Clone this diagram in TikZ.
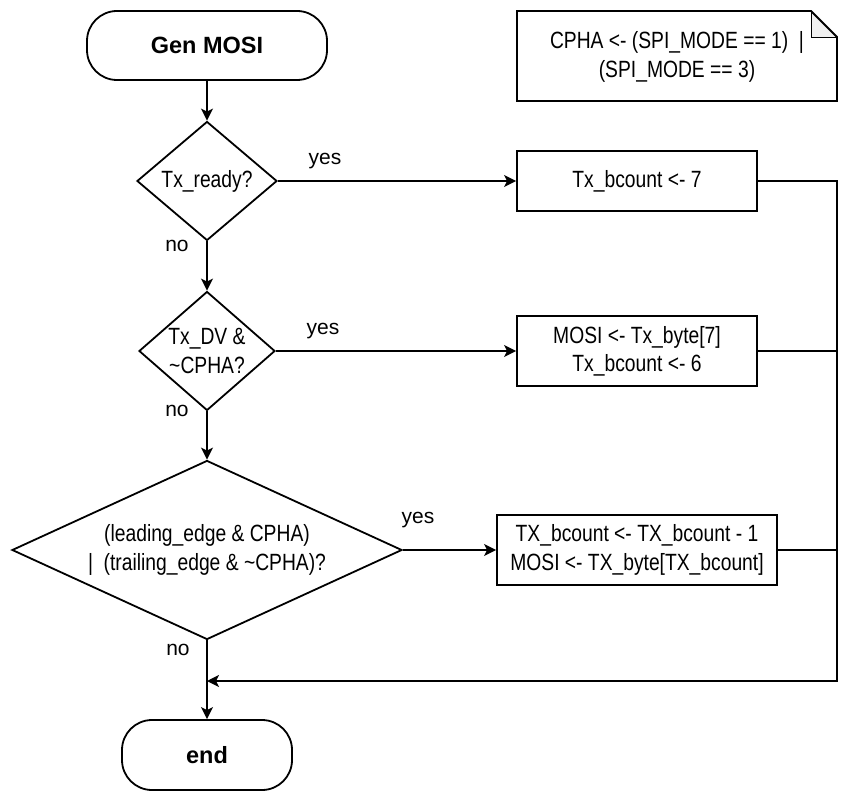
\documentclass[tikz,border=0pt]{standalone}
\usepackage{fontspec}
\setmainfont{Liberation Sans}
\newfontfamily\narrowfont{Liberation Sans}[FakeStretch=0.82]
\usepackage{tikz}
\usetikzlibrary{arrows.meta,shapes.geometric}

\begin{document}
\begin{tikzpicture}[x=1pt,y=-1pt,
	txt/.style={font=\narrowfont\fontsize{23.5pt}{28.3pt}\selectfont,align=center,inner sep=0pt},
	term/.style={draw,line width=1.8pt,rounded corners=30pt,font=\bfseries\fontsize{23.5pt}{28.3pt}\selectfont},
	decision/.style={txt,diamond,draw,line width=1.8pt},
	process/.style={txt,rectangle,draw,line width=1.8pt},
	flow/.style={-{Stealth[length=12pt,width=12pt,inset=3pt]},line width=1.8pt},
	lbl/.style={font=\fontsize{21pt}{25pt}\selectfont,inner sep=0pt}]
	\useasboundingbox (0,0) rectangle (864,802);
	
	%terminals
	\node[term,minimum width=240pt,minimum height=69pt] (start) at (207,45.5) {Gen MOSI};
	\node[term,minimum width=170pt,minimum height=70pt] (end) at (207,755) {end};
	
	%decisions
	\node[decision,aspect=1.18,minimum width=140pt,minimum height=119pt] (rdy) at (207,181) {Tx\_ready?};
	\node[decision,aspect=1.14,minimum width=136pt,minimum height=119pt] (dv) at (207,351) {Tx\_DV \&\\\textasciitilde CPHA?};
	\node[decision,aspect=2.18,minimum width=390pt,minimum height=179pt] (edge) at (207,550) {(leading\_edge \& CPHA)\\|\ \ (trailing\_edge \& \textasciitilde CPHA)?};
	
	%processes
	\node[process,minimum width=240pt,minimum height=60pt] (cnt7) at (637,181) {Tx\_bcount <- 7};
	\node[process,minimum width=240pt,minimum height=70pt] (first) at (637,351) {MOSI <- Tx\_byte[7]\\Tx\_bcount <- 6};
	\node[process,minimum width=280pt,minimum height=70pt] (shift) at (637,550) {TX\_bcount <- TX\_bcount - 1\\MOSI <- TX\_byte[TX\_bcount]};
	
	%note
	\filldraw[fill=gray!12,line width=0.8pt] (811,11) -- (811,37) -- (837,37);
	\draw[line width=1.8pt] (517,11) -- (811,11) -- (837,37) -- (837,101) -- (517,101) -- cycle;
	\node[txt] (note) at (677,57) {CPHA <- (SPI\_MODE == 1)\ \ |\\(SPI\_MODE == 3)};
	
	%arrows
	\draw[flow] (start) -- (rdy);		%start--rdy
	\draw[flow] (rdy) -- (dv);			%rdy--dv
	\draw[flow] (dv) -- (edge);			%dv--edge
	\draw[flow] (edge) -- (end);		%edge--end
	\draw[flow] (rdy) -- (cnt7);		%rdy--cnt7
	\draw[flow] (dv) -- (first);		%dv--first
	\draw[flow] (edge) -- (shift);		%edge--shift
	
	%return line
	\coordinate (corner) at (837,681);
	\coordinate (join) at (207,681);
	\draw[flow] (cnt7.east) -| (corner) -- (join);
	\draw[line width=1.8pt] (first.east) -- (first.east -| corner);
	\draw[line width=1.8pt] (shift.east) -- (shift.east -| corner);
	
	%branch labels
	\node[lbl] (yes1) at (325,161) {yes};
	\node[lbl] (yes2) at (323,331) {yes};
	\node[lbl] (yes3) at (418,520) {yes};
	\node[lbl] (no1) at (177,246) {no};
	\node[lbl] (no2) at (177,411) {no};
	\node[lbl] (no3) at (178,650) {no};
	
	%\draw[help lines] (0,0) grid[step=50] (864,802);
\end{tikzpicture}
\end{document}
